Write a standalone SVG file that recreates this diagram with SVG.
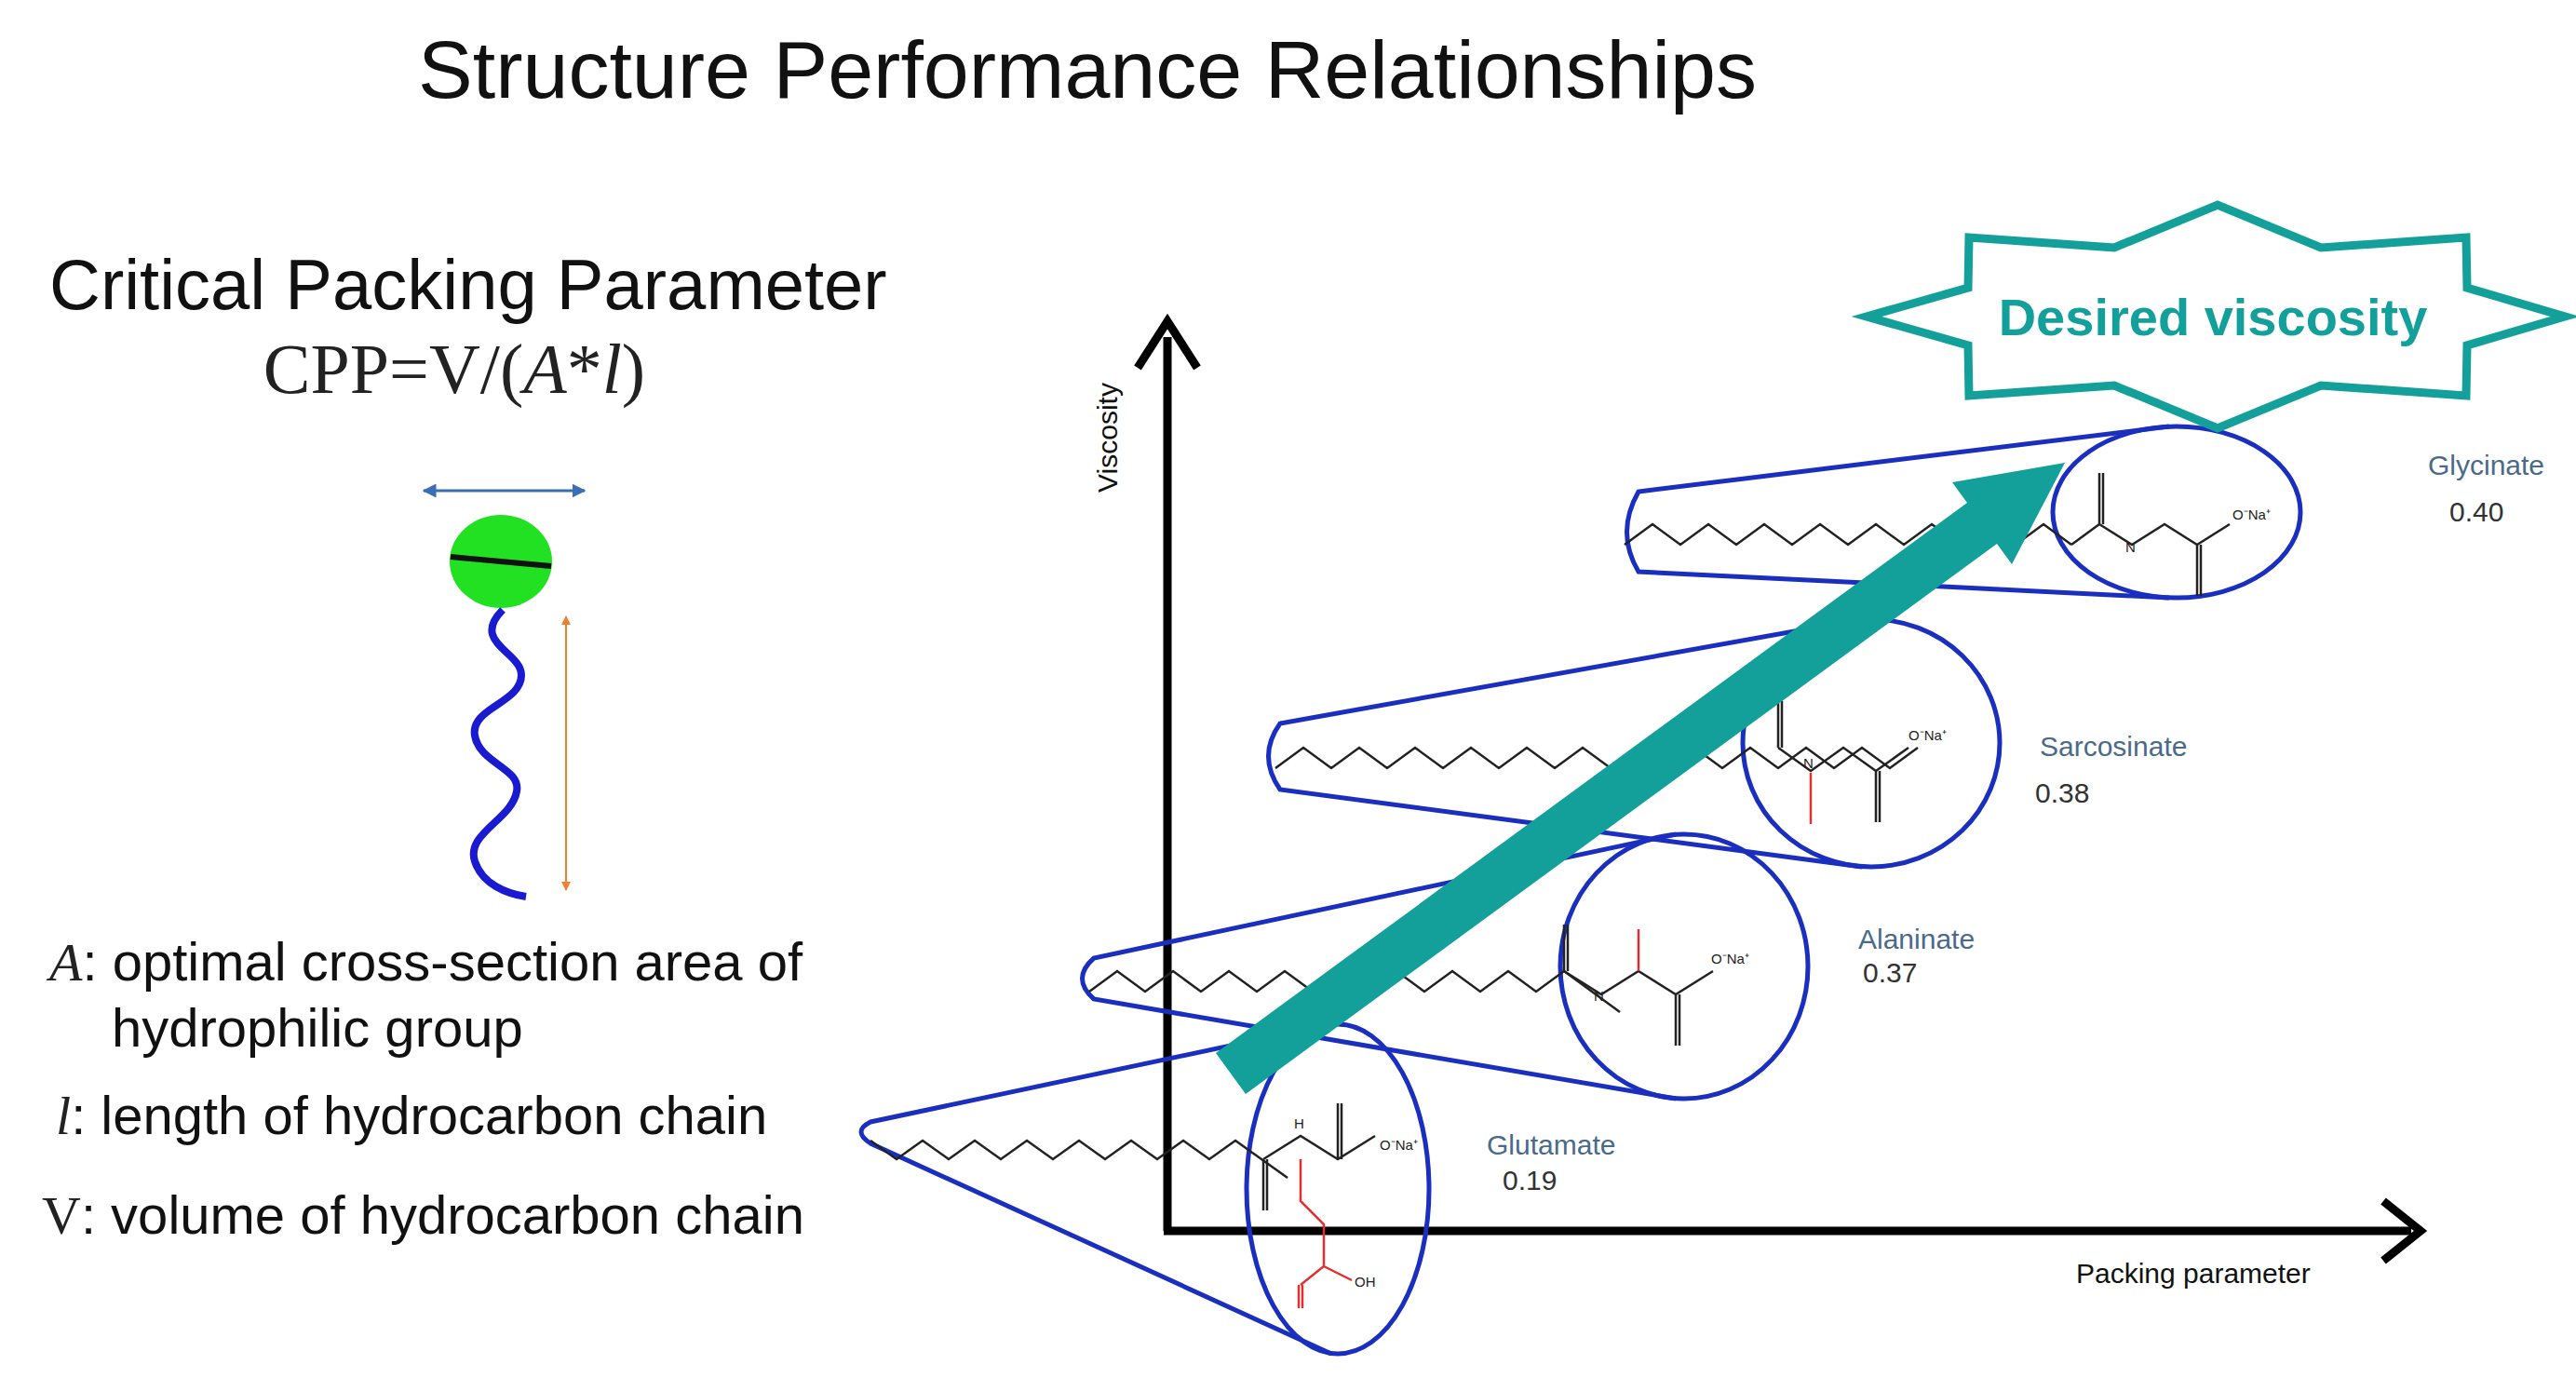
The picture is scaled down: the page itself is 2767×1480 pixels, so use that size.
<svg xmlns="http://www.w3.org/2000/svg" width="2767" height="1480" viewBox="0 0 2767 1480">
<defs>
<style>
.t{font-family:"Liberation Sans",Arial,sans-serif;fill:#111}
.s{font-family:"Liberation Serif","Times New Roman",serif;fill:#222}
.cone{fill:none;stroke:#1a2fc0;stroke-width:5}
.ch{fill:none;stroke:#222;stroke-width:2.5}
.red{fill:none;stroke:#e03030;stroke-width:2.5}
.lab{font-family:"Liberation Sans",Arial,sans-serif;font-size:30px;fill:#4a6a8a}
.num{font-family:"Liberation Sans",Arial,sans-serif;font-size:30px;fill:#333}
.at{font-family:"Liberation Sans",Arial,sans-serif;font-size:15px;fill:#222}
</style>
<marker id="bh" viewBox="0 0 10 10" refX="9" refY="5" markerWidth="5" markerHeight="5" orient="auto-start-reverse"><path d="M0 0L10 5L0 10z" fill="#3a6fb5"/></marker>
<marker id="oh" viewBox="0 0 10 10" refX="9" refY="5" markerWidth="5" markerHeight="5" orient="auto-start-reverse"><path d="M0 0L10 5L0 10z" fill="#f08030"/></marker>
</defs>
<rect width="2767" height="1480" fill="#fff"/>
<text class="t" x="1168" y="105" font-size="88" text-anchor="middle">Structure Performance Relationships</text>
<g id="cpp">
<text class="t" x="53" y="332" font-size="76">Critical Packing Parameter</text>
<text class="s" x="488" y="422" font-size="76" text-anchor="middle">CPP=V/(<tspan font-style="italic">A</tspan>*<tspan font-style="italic">l</tspan>)</text>
<line x1="455" y1="527" x2="628" y2="527" stroke="#3a6fb5" stroke-width="3" marker-start="url(#bh)" marker-end="url(#bh)"/>
<ellipse cx="538" cy="603" rx="55" ry="50" fill="#22e022"/>
<line x1="484" y1="598" x2="592" y2="608" stroke="#111" stroke-width="6"/>
<path d="M540 655 C505 690 560 700 560 725 C560 755 505 760 510 790 C515 820 560 825 555 850 C550 880 500 895 510 925 C518 950 545 960 565 963" fill="none" stroke="#1a1ad0" stroke-width="8"/>
<line x1="608" y1="662" x2="608" y2="956" stroke="#f08030" stroke-width="2" marker-start="url(#oh)" marker-end="url(#oh)"/>
<text class="t" x="53" y="1053" font-size="58"><tspan class="s" font-style="italic">A</tspan>: optimal cross-section area of</text>
<text class="t" x="120" y="1124" font-size="58">hydrophilic group</text>
<text class="t" x="60" y="1218" font-size="58"><tspan class="s" font-style="italic">l</tspan>:  length of hydrocarbon chain</text>
<text class="t" x="45" y="1325" font-size="58"><tspan class="s">V</tspan>: volume of hydrocarbon chain</text>
</g>
<g id="axes">
<line x1="1254" y1="1322" x2="1254" y2="362" stroke="#000" stroke-width="9"/>
<path d="M1222 395L1254 345L1286 395" fill="none" stroke="#000" stroke-width="9"/>
<line x1="1250" y1="1322" x2="2590" y2="1322" stroke="#000" stroke-width="9"/>
<path d="M2560 1290L2600 1322L2560 1354" fill="none" stroke="#000" stroke-width="9"/>
<text class="t" x="1200" y="470" font-size="30" fill="#333" transform="rotate(-90 1200 470)" text-anchor="middle">Viscosity</text>
<text class="t" x="2230" y="1378" font-size="30" fill="#333">Packing parameter</text>
</g>
<g id="glycinate">
<path class="cone" d="M2330 458L1760 528Q1735 572 1760 614L2330 642"/>
<ellipse class="cone" cx="2338" cy="550" rx="133" ry="92"/>
<path class="ch" d="M1745 585l30-22l30 22l30-22l30 22l30-22l30 22l30-22l30 22l30-22l30 22l30-22l30 22l30-22l30 22l30-22l30 22"/>
<path class="ch" d="M2255 563l-30 22M2255 563v-55M2259 563v-55M2255 563l35 22l35-22l35 22l35-22M2360 585v55M2364 585v55"/>
<text class="at" x="2283" y="593">N</text><text class="at" x="2398" y="558">O⁻Na⁺</text>
<text class="lab" x="2608" y="510">Glycinate</text><text class="num" x="2631" y="560">0.40</text>
</g>
<g id="sarcosinate">
<path class="cone" d="M2000 665L1375 777Q1350 812 1375 848L2000 931"/>
<ellipse class="cone" cx="2010" cy="798" rx="138" ry="133"/>
<path class="ch" d="M1370 825l30-22l30 22l30-22l30 22l30-22l30 22l30-22l30 22l30-22l30 22l30-22l30 22l30-22l30 22l30-22l30 22l30-22l30 22l30-22l30 22l30-22l30 22l30 -22"/>
<path class="ch" d="M1910 803v-50M1914 803v-50M1910 803l35 25l35-25l35 25l35-25M2015 828v55M2019 828v55"/>
<path class="red" d="M1945 830v55"/>
<text class="at" x="1937" y="825">N</text><text class="at" x="2050" y="795">O⁻Na⁺</text>
<text class="lab" x="2191" y="812">Sarcosinate</text><text class="num" x="2186" y="862">0.38</text>
</g>
<g id="alaninate">
<path class="cone" d="M1800 896L1175 1029Q1150 1051 1175 1073L1800 1180"/>
<ellipse class="cone" cx="1809" cy="1038" rx="133" ry="142"/>
<path class="ch" d="M1170 1065l30-22l30 22l30-22l30 22l30-22l30 22l30-22l30 22l30-22l30 22l30-22l30 22l30-22l30 22l30-22l30 22l30-22l30 22l30 22"/>
<path class="ch" d="M1680 1043v-50M1684 1043v-50M1680 1043l40 25l40-25l40 25l40-25M1800 1068v55M1804 1068v55"/>
<path class="red" d="M1760 1043v-45"/>
<text class="at" x="1712" y="1075">N</text><text class="at" x="1838" y="1035">O⁻Na⁺</text>
<text class="lab" x="1996" y="1019">Alaninate</text><text class="num" x="2001" y="1055">0.37</text>
</g>
<g id="glutamate">
<path class="cone" d="M1430 1100L935 1205Q915 1215 935 1228L1430 1454"/>
<ellipse class="cone" cx="1437" cy="1277" rx="98" ry="177"/>
<path class="ch" d="M935 1225l28 20l28-20l28 20l28-20l28 20l28-20l28 20l28-20l28 20l28-20l28 20l28-20l28 20l28-20l28 20l28 20"/>
<path class="ch" d="M1357 1245v55M1361 1245v55M1357 1245l40-25l40 25l40-25M1437 1245v-60M1441 1245v-60"/>
<path class="red" d="M1397 1245v45l25 25v45l-25 20M1422 1360l30 15M1395 1380v25M1399 1380v25"/>
<text class="at" x="1390" y="1212">H</text><text class="at" x="1482" y="1235">O⁻Na⁺</text><text class="at" x="1455" y="1382" fill="#e03030">OH</text>
<text class="lab" x="1597" y="1240">Glutamate</text><text class="num" x="1614" y="1278">0.19</text>
</g>
<g id="trend">
<polygon points="1338,1175 1306,1131 2113,540 2097,518 2218,497 2161,606 2145,584" fill="#14a09a"/>
</g>
<g id="desired">
<polygon points="2755,340 2650,371 2649,425 2493,414 2382,460 2271,414 2115,425 2114,371 2005,340 2114,309 2115,255 2271,266 2382,220 2493,266 2649,255 2650,309" fill="#fff" stroke="#14a09a" stroke-width="9" stroke-linejoin="miter"/>
<text x="2377" y="360" font-family="Liberation Sans,Arial,sans-serif" font-weight="bold" font-size="56" fill="#14a09a" text-anchor="middle">Desired viscosity</text>
</g>
</svg>
